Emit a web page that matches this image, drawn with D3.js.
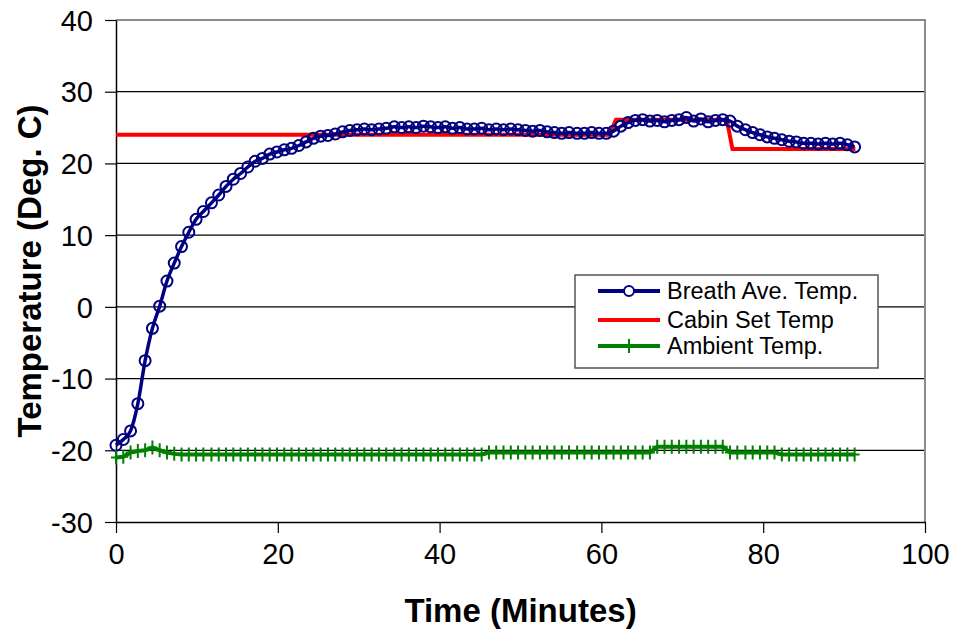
<!DOCTYPE html>
<html>
<head>
<meta charset="utf-8">
<script src="https://cdn.jsdelivr.net/npm/d3@7"></script>
<style>
  body { margin: 0; background: #fff; }
  text { font-family: "Liberation Sans", Arial, sans-serif; }
</style>
</head>
<body>
<svg id="chart" width="956" height="631"></svg>
<script>
// sample times (minutes), shared by breath and ambient series
const minutes = [0, 0.9, 1.8, 2.7, 3.6, 4.5, 5.4, 6.3, 7.2, 8.1, 9.0, 9.9, 10.8, 11.8, 12.7, 13.6, 14.5, 15.4, 16.3, 17.2,
  18.1, 19.0, 19.9, 20.8, 21.7, 22.6, 23.5, 24.4, 25.3, 26.2, 27.1, 28.0, 28.9, 29.8, 30.7, 31.6, 32.5, 33.4, 34.4, 35.3,
  36.2, 37.1, 38.0, 38.9, 39.8, 40.7, 41.6, 42.5, 43.4, 44.3, 45.2, 46.1, 47.0, 47.9, 48.8, 49.7, 50.6, 51.5, 52.4, 53.3,
  54.2, 55.1, 56.0, 57.0, 57.9, 58.8, 59.7, 60.6, 61.5, 62.4, 63.3, 64.2, 65.1, 66.0, 66.9, 67.8, 68.7, 69.6, 70.5, 71.4,
  72.3, 73.2, 74.1, 75.0, 75.9, 76.8, 77.8, 78.7, 79.6, 80.5, 81.4, 82.3, 83.2, 84.1, 85.0, 85.9, 86.8, 87.7, 88.6, 89.5,
  90.4, 91.3];

const breath = [-19.3, -18.5, -17.3, -13.5, -7.5, -3.0, 0.1, 3.6, 6.1, 8.4, 10.4, 12.2, 13.3, 14.5, 15.6, 16.8, 17.8, 18.6, 19.5, 20.3,
  20.7, 21.3, 21.6, 21.9, 22.1, 22.5, 23.0, 23.5, 23.8, 23.9, 24.1, 24.4, 24.6, 24.7, 24.8, 24.7, 24.8, 24.9, 25.1, 25.0,
  25.1, 25.0, 25.2, 25.1, 25.0, 25.1, 24.9, 25.0, 24.8, 24.8, 24.9, 24.7, 24.8, 24.7, 24.8, 24.7, 24.6, 24.5, 24.6, 24.4,
  24.3, 24.2, 24.3, 24.2, 24.2, 24.3, 24.2, 24.2, 24.5, 25.2, 25.7, 26.0, 26.1, 25.9, 26.0, 25.8, 26.0, 26.1, 26.4, 25.9,
  26.2, 25.8, 26.0, 26.1, 25.9, 25.2, 24.7, 24.3, 24.0, 23.7, 23.5, 23.3, 23.1, 23.0, 22.8, 22.8, 22.7, 22.8, 22.7, 22.8,
  22.6, 22.3];

const ambient = [-21.0, -20.9, -20.3, -20.1, -20.0, -19.6, -20.0, -20.3, -20.5, -20.6, -20.6, -20.6, -20.6, -20.6, -20.6, -20.6, -20.6, -20.6, -20.6, -20.6,
  -20.6, -20.6, -20.6, -20.6, -20.6, -20.6, -20.6, -20.6, -20.6, -20.6, -20.6, -20.6, -20.6, -20.6, -20.6, -20.6, -20.6, -20.6, -20.6, -20.6,
  -20.6, -20.6, -20.6, -20.6, -20.6, -20.6, -20.6, -20.6, -20.6, -20.6, -20.6, -20.3, -20.3, -20.3, -20.3, -20.3, -20.3, -20.3, -20.3, -20.3,
  -20.3, -20.3, -20.3, -20.3, -20.3, -20.3, -20.3, -20.3, -20.3, -20.3, -20.3, -20.3, -20.3, -20.3, -19.5, -19.5, -19.5, -19.5, -19.5, -19.5,
  -19.5, -19.5, -19.5, -19.5, -20.3, -20.3, -20.3, -20.3, -20.3, -20.3, -20.3, -20.6, -20.6, -20.6, -20.6, -20.6, -20.6, -20.6, -20.6, -20.6,
  -20.6, -20.6];

// cabin set point, stepwise
const cabinTime = [0, 61.0, 61.8, 75.5, 76.2, 91.4];
const cabinTemp = [24, 24, 26.1, 26.1, 22, 22];

const xTicks = [0, 20, 40, 60, 80, 100];
const yTicks = [-30, -20, -10, 0, 10, 20, 30, 40];

const series = [
  {name: 'Breath Ave. Temp.', color: '#000080', marker: 'circle'},
  {name: 'Cabin Set Temp', color: '#ff0000', marker: 'none'},
  {name: 'Ambient Temp.', color: '#008000', marker: 'plus'}
];

const svg = d3.select('#chart');
const margin = {top: 20, left: 116, right: 31, bottom: 109};
const width = +svg.attr('width') - margin.left - margin.right;
const height = +svg.attr('height') - margin.top - margin.bottom;

const x = d3.scaleLinear().domain([0, 100]).range([0, width]);
const y = d3.scaleLinear().domain([-30, 40]).range([height, 0]);

const g = svg.append('g').attr('transform', `translate(${margin.left},${margin.top})`);

// gridlines
g.selectAll('.grid').data(yTicks.filter(d => d > -30 && d < 40))
  .enter().append('line')
    .attr('x1', 0).attr('x2', width)
    .attr('y1', d => y(d)).attr('y2', d => y(d))
    .attr('stroke', '#000').attr('stroke-width', 1.2);

// plot area border top / right
g.append('path')
  .attr('d', `M0,0H${width}V${height}`)
  .attr('fill', 'none').attr('stroke', '#8c8c8c').attr('stroke-width', 2);

// axes (plain hyphen for negatives, like the original)
const fmt = d => String(d);
const xAxis = g.append('g').attr('transform', `translate(0,${height})`)
  .call(d3.axisBottom(x).tickValues(xTicks).tickFormat(fmt).tickSize(11).tickPadding(10).tickSizeOuter(0));
const yAxis = g.append('g')
  .call(d3.axisLeft(y).tickValues(yTicks).tickFormat(fmt).tickSize(11).tickPadding(12).tickSizeOuter(0));

[xAxis, yAxis].forEach(a => {
  a.select('.domain').attr('stroke', '#000').attr('stroke-width', 1.5);
  a.selectAll('.tick line').attr('stroke', '#000').attr('stroke-width', 1.2);
  a.selectAll('.tick text').attr('fill', '#000').style('font-size', '29px')
    .style('font-family', '"Liberation Sans", Arial, sans-serif');
});
yAxis.selectAll('.tick text').attr('dy', '0.35em');
xAxis.selectAll('.tick text').attr('dy', '0.71em');

const line = d3.line().x(d => x(d[0])).y(d => y(d[1]));

const cabinData = cabinTime.map((t, i) => [t, cabinTemp[i]]);
const breathData = minutes.map((t, i) => [t, breath[i]]).filter(d => d[1] !== undefined);
const ambientData = minutes.map((t, i) => [t, ambient[i]]).filter(d => d[1] !== undefined);

// cabin set temp
g.append('path').datum(cabinData)
  .attr('d', line).attr('fill', 'none')
  .attr('stroke', series[1].color).attr('stroke-width', 4);

// breath
g.append('path').datum(breathData)
  .attr('d', d3.line().curve(d3.curveMonotoneX).x(d => x(d[0])).y(d => y(d[1])))
  .attr('fill', 'none').attr('stroke', series[0].color).attr('stroke-width', 3.5);
g.selectAll('.bmark').data(breathData)
  .enter().append('circle')
    .attr('cx', d => x(d[0])).attr('cy', d => y(d[1])).attr('r', 5.5)
    .attr('fill', 'none').attr('stroke', series[0].color).attr('stroke-width', 2);

// ambient
g.append('path').datum(ambientData)
  .attr('d', line).attr('fill', 'none')
  .attr('stroke', series[2].color).attr('stroke-width', 4);
const plus = 'M-5,0H5M0,-7V7';
g.selectAll('.amark').data(ambientData)
  .enter().append('path')
    .attr('transform', d => `translate(${x(d[0])},${y(d[1])})`)
    .attr('d', plus).attr('stroke', series[2].color).attr('stroke-width', 2);

// axis titles
svg.append('text')
  .attr('x', margin.left + width / 2).attr('y', 622)
  .attr('text-anchor', 'middle')
  .style('font-size', '33px').style('font-weight', 'bold')
  .text('Time (Minutes)');
svg.append('text')
  .attr('transform', `translate(41,${margin.top + height / 2}) rotate(-90)`)
  .attr('text-anchor', 'middle')
  .style('font-size', '33px').style('font-weight', 'bold')
  .text('Temperature (Deg. C)');

// legend
const legend = svg.append('g').attr('transform', 'translate(575,275)');
legend.append('rect')
  .attr('width', 303).attr('height', 93)
  .attr('fill', '#fff').attr('stroke', '#555').attr('stroke-width', 1.5);
const rows = legend.selectAll('.row').data(series)
  .enter().append('g')
    .attr('transform', (d, i) => `translate(0,${[16, 45, 71][i]})`);
rows.append('line')
  .attr('x1', 23).attr('x2', 85)
  .attr('stroke', d => d.color).attr('stroke-width', 4);
rows.filter(d => d.marker === 'circle').append('circle')
  .attr('cx', 54).attr('r', 5).attr('fill', '#fff')
  .attr('stroke', d => d.color).attr('stroke-width', 2);
rows.filter(d => d.marker === 'plus').append('path')
  .attr('transform', 'translate(54,0)')
  .attr('d', plus).attr('stroke', d => d.color).attr('stroke-width', 2);
rows.append('text')
  .attr('x', 92).attr('dy', '0.35em')
  .style('font-size', '23.5px')
  .text(d => d.name);
</script>
</body>
</html>
